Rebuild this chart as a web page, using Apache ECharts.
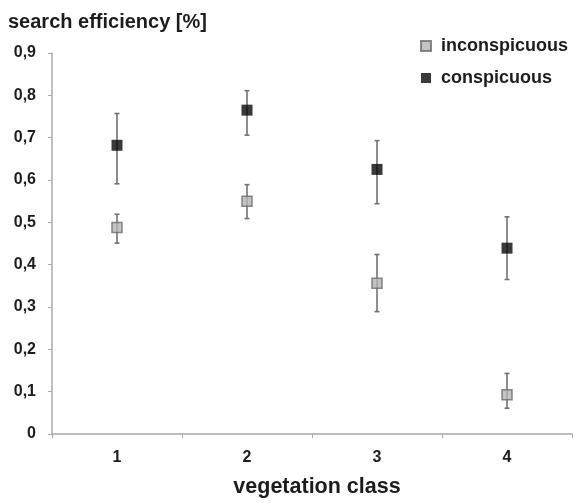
<!DOCTYPE html>
<html>
<head>
<meta charset="utf-8">
<script src="https://cdn.jsdelivr.net/npm/echarts@6/dist/echarts.min.js"></script>
<style>
  html, body { margin: 0; padding: 0; background: #fff; }
  #chart { width: 575px; height: 503px; }
</style>
</head>
<body>
<div id="chart"></div>
<script>
// Vegetation classes on the x axis
const categories = ['1', '2', '3', '4'];

// Search efficiency: means and error-bar bounds
const conspicuousMean = [0.682, 0.765, 0.625, 0.439];
const conspicuousLow  = [0.591, 0.706, 0.544, 0.365];
const conspicuousHigh = [0.757, 0.811, 0.693, 0.513];

const inconspicuousMean = [0.488, 0.550, 0.356, 0.093];
const inconspicuousLow  = [0.451, 0.509, 0.289, 0.061];
const inconspicuousHigh = [0.519, 0.589, 0.424, 0.143];

// Y tick labels with decimal comma
const yTickLabels = ['0', '0,1', '0,2', '0,3', '0,4', '0,5', '0,6', '0,7', '0,8', '0,9'];

const FONT = '"Liberation Sans", Arial, sans-serif';
const TEXT = '#1c1c1c';
const AXIS = '#a8a8a8';

function errorData(low, high) {
  return categories.map((c, i) => [i, low[i], high[i]]);
}

function renderErrorBar(params, api) {
  const x = api.value(0);
  const top = api.coord([x, api.value(2)]);
  const bot = api.coord([x, api.value(1)]);
  const cap = 2.5;
  const style = { stroke: '#727272', lineWidth: 1.6 };
  return {
    type: 'group',
    children: [
      { type: 'line', shape: { x1: top[0], y1: top[1], x2: bot[0], y2: bot[1] }, style },
      { type: 'line', shape: { x1: top[0] - cap, y1: top[1], x2: top[0] + cap, y2: top[1] }, style },
      { type: 'line', shape: { x1: bot[0] - cap, y1: bot[1], x2: bot[0] + cap, y2: bot[1] }, style }
    ]
  };
}

const chart = echarts.init(document.getElementById('chart'), null, { renderer: 'canvas' });

chart.setOption({
  animation: false,
  backgroundColor: '#fff',
  title: {
    text: 'search efficiency [%]',
    left: 8,
    top: 12,
    padding: 0,
    textStyle: { fontFamily: FONT, fontSize: 20, fontWeight: 'bold', color: TEXT }
  },
  legend: {
    orient: 'vertical',
    left: 420,
    top: 37,
    padding: 0,
    itemWidth: 10,
    itemHeight: 10,
    itemGap: 14,
    icon: 'rect',
    textStyle: { fontFamily: FONT, fontSize: 18, fontWeight: 'bold', color: TEXT, padding: [0, 0, 0, 5] },
    data: ['inconspicuous', 'conspicuous']
  },
  grid: { left: 52, right: 3, top: 53, bottom: 65, containLabel: false },
  xAxis: {
    type: 'category',
    data: categories,
    boundaryGap: true,
    name: 'vegetation class',
    nameLocation: 'middle',
    nameGap: 42,
    nameTextStyle: { fontFamily: FONT, fontSize: 21.5, fontWeight: 'bold', color: TEXT, padding: [0, 0, 0, 10] },
    axisLine: { lineStyle: { color: AXIS, width: 1.5 } },
    axisTick: { show: true, length: 4, lineStyle: { color: AXIS } },
    axisLabel: { fontFamily: FONT, fontSize: 16, fontWeight: 'bold', color: TEXT, margin: 16 },
    splitLine: { show: false }
  },
  yAxis: {
    type: 'value',
    min: 0,
    max: 0.9,
    interval: 0.1,
    axisLine: { show: true, lineStyle: { color: AXIS, width: 1.5 } },
    axisTick: { show: true, length: 4, lineStyle: { color: AXIS } },
    axisLabel: {
      fontFamily: FONT, fontSize: 16, fontWeight: 'bold', color: TEXT, margin: 16,
      formatter: (v) => yTickLabels[Math.round(v * 10)]
    },
    splitLine: { show: false }
  },
  series: [
    {
      type: 'custom',
      name: 'inconspicuous-err',
      renderItem: renderErrorBar,
      encode: { x: 0, y: [1, 2] },
      data: errorData(inconspicuousLow, inconspicuousHigh),
      z: 1
    },
    {
      type: 'custom',
      name: 'conspicuous-err',
      renderItem: renderErrorBar,
      encode: { x: 0, y: [1, 2] },
      data: errorData(conspicuousLow, conspicuousHigh),
      z: 1
    },
    {
      type: 'scatter',
      name: 'inconspicuous',
      symbol: 'rect',
      symbolSize: 10,
      itemStyle: { color: '#b4b4b4', borderColor: '#6a6a6a', borderWidth: 1.5 },
      data: inconspicuousMean.map((v, i) => [i, v]),
      z: 3
    },
    {
      type: 'scatter',
      name: 'conspicuous',
      symbol: 'rect',
      symbolSize: 11,
      itemStyle: { color: '#080808' },
      data: conspicuousMean.map((v, i) => [i, v]),
      z: 3
    }
  ]
});
</script>
</body>
</html>
